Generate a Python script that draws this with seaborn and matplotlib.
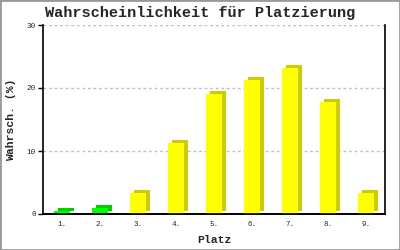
import matplotlib
matplotlib.use("Agg")
import matplotlib.pyplot as plt
import seaborn as sns
import pandas as pd

places = ["1.", "2.", "3.", "4.", "5.", "6.", "7.", "8.", "9."]
values = [0.5, 1.0, 3.4, 11.3, 19.1, 21.2, 23.2, 17.7, 3.4]
front_colors = ["#00ff00", "#00ff00"] + ["#ffff00"] * 7
shadow_colors = ["#00cc00", "#00cc00"] + ["#cccc00"] * 7
yticks = [0, 10, 20, 30]

df = pd.DataFrame({"Platz": places, "Wert": values})

sns.set_theme(style="white")
mono = ["Liberation Mono", "DejaVu Sans Mono"]
plt.rcParams["font.family"] = mono

W, H = 400, 250
fig = plt.figure(figsize=(4, 2.5), dpi=100)
fig.patch.set_facecolor("white")

rect = [43 / W, 1 - 214 / H, 342 / W, 189 / H]
ax = fig.add_axes(rect)  # main axes: grid, spines, labels
ax_sh = fig.add_axes([rect[0] + 4 / W, rect[1] + 3 / H, rect[2], rect[3]])  # shadow
ax_fr = fig.add_axes(rect)  # front faces

for a, cols in ((ax_sh, shadow_colors), (ax_fr, front_colors)):
    sns.barplot(data=df, x="Platz", y="Wert", hue="Platz", palette=cols,
                width=0.44, legend=False, ax=a, saturation=1, linewidth=0)
    a.set_ylim(0, 30)
    a.set_xlim(-0.5, len(places) - 0.5)
    a.set_facecolor("none")
    a.axis("off")
ax_sh.patch.set_visible(False)
ax_fr.patch.set_visible(False)
for p in ax_sh.patches:
    p.set_clip_on(False)

# main axes
sns.barplot(data=df, x="Platz", y="Wert", ax=ax, alpha=0, width=0.44)
ax.set_ylim(0, 30)
ax.set_xlim(-0.5, len(places) - 0.5)
ax.set_facecolor("white")
ax.set_yticks(yticks)
ax.set_yticklabels([str(v) for v in yticks], fontsize=5.5)
ax.tick_params(axis="y", length=3.6, width=1, color="black", pad=1.5, left=True)
ax.tick_params(axis="x", length=0, pad=5, labelsize=5.5)

for yv in yticks[1:]:
    ax.axhline(yv, color="#c0c0c0", linestyle=(0, (2, 2)), linewidth=1, zorder=1)

for side in ["left", "bottom", "right"]:
    ax.spines[side].set_visible(True)
    ax.spines[side].set_color("black")
    ax.spines[side].set_linewidth(1.2)
ax.spines["top"].set_visible(False)

ax.set_xlabel("Platz", fontsize=8.2, fontweight="bold", labelpad=5)
ax.set_ylabel("Wahrsch. (%)", fontsize=8.2, fontweight="bold", labelpad=8)

# redraw axes lines above bars
ax_fr.axhline(0, color="black", linewidth=1.2, clip_on=False)

fig.text(0.5, 1 - 13 / H, "Wahrscheinlichkeit für Platzierung", ha="center",
         va="center", fontsize=11, fontweight="bold")

fig.add_artist(plt.Rectangle((0, 0), 1, 1, transform=fig.transFigure,
                             fill=False, edgecolor="#999999", linewidth=2))

fig.savefig("out.png", dpi=100, facecolor="white")
